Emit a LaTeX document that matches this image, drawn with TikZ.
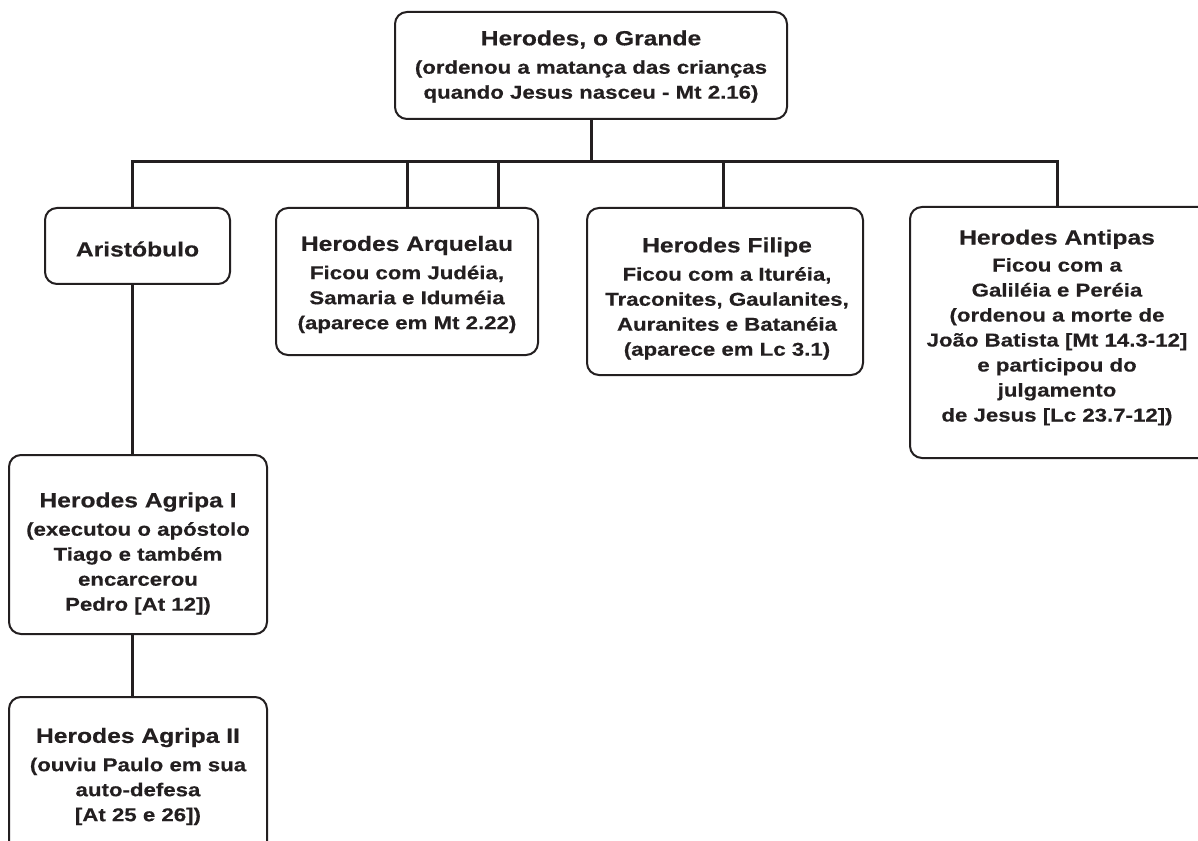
\documentclass[tikz,border=0pt]{standalone}
\usepackage{fontspec}
\newfontfamily\hfont[FakeStretch=1.2,FakeBold=0.4]{Liberation Sans Bold}
\newcommand{\bodyf}{\hfont\fontsize{13.9pt}{18.75pt}\selectfont}
\newcommand{\ttl}{\fontsize{15.4pt}{18.75pt}\selectfont}
\definecolor{ink}{HTML}{231F20}
\tikzset{
  box/.style={draw=ink, line width=1.5pt, rounded corners=9pt, inner sep=0pt},
  txt/.style={align=center, text=ink, font=\bodyf, inner sep=0pt},
  conn/.style={draw=ink, line width=2.25pt, line join=miter}
}
\begin{document}
\begin{tikzpicture}[x=0.75pt,y=-0.75pt]
\clip (0,0) rectangle (1198,841);
\fill[white] (0,0) rectangle (1198,841);

% boxes
\node[box, minimum width=294pt, minimum height=80.25pt] (top) at (591,65.5) {};
\node[box, minimum width=138.75pt, minimum height=57pt] (aris) at (137.5,246) {};
\node[box, minimum width=196.5pt, minimum height=110.25pt] (arq) at (407,281.5) {};
\node[box, minimum width=207pt, minimum height=125.25pt] (fil) at (725,291.5) {};
\node[box, minimum width=228.75pt, minimum height=188.25pt] (ant) at (1062.5,332.5) {};
\node[box, minimum width=193.5pt, minimum height=134.25pt] (ag1) at (138,544.5) {};
\node[box, minimum width=193.5pt, minimum height=137.25pt] (ag2) at (138,788.5) {};

% texts
\node[txt] (top-t) at (591,66.5)
  {{\ttl Herodes, o Grande}\\[2.5pt](ordenou a matança das crianças\\quando Jesus nasceu - Mt 2.16)};
\node[txt] (aris-t) at (137.5,249) {\ttl Aristóbulo};
\node[txt] (arq-t) at (407,284.5)
  {{\ttl Herodes Arquelau}\\[2.5pt]Ficou com Judéia,\\Samaria e Iduméia\\(aparece em Mt 2.22)};
\node[txt] (fil-t) at (727,298.5)
  {{\ttl Herodes Filipe}\\[2.5pt]Ficou com a Ituréia,\\Traconites, Gaulanites,\\Auranites e Batanéia\\(aparece em Lc 3.1)};
\node[txt] (ant-t) at (1057,327.5)
  {{\ttl Herodes Antipas}\\[1.5pt]Ficou com a\\Galiléia e Peréia\\(ordenou a morte de\\João Batista {[}Mt 14.3-12{]}\\e participou do\\julgamento\\de Jesus {[}Lc 23.7-12{]})};
\node[txt] (ag1-t) at (138,553.5)
  {{\ttl Herodes Agripa I}\\[2.5pt](executou o apóstolo\\Tiago e também\\encarcerou\\Pedro {[}At 12{]})};
\node[txt] (ag2-t) at (138,776.5)
  {{\ttl Herodes Agripa II}\\[2.5pt](ouviu Paulo em sua\\auto-defesa\\{[}At 25 e 26{]})};

% connectors
\coordinate (busL) at (132,162);
\coordinate (busR) at (1057,162);
\coordinate (dA) at (407,162);
\coordinate (dB) at (498,162);
\coordinate (dF) at (723,162);
\coordinate (dT) at (591,162);

\draw[conn] (top.south) -- (dT);
\draw[conn] (busL |- aris.north) -- (busL) -- (busR) -- (busR |- ant.north);
\draw[conn] (dA) -- (dA |- arq.north);
\draw[conn] (dB) -- (dB |- arq.north);
\draw[conn] (dF) -- (dF |- fil.north);
\draw[conn] (busL |- aris.south) -- (busL |- ag1.north);
\draw[conn] (busL |- ag1.south) -- (busL |- ag2.north);
\end{tikzpicture}
\end{document}
